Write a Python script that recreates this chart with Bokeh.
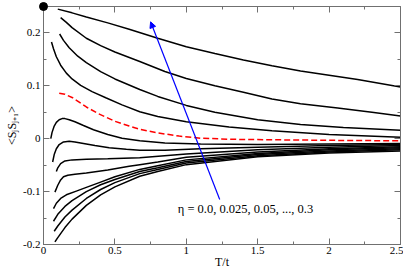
from bokeh.plotting import figure
from bokeh.models import (LinearAxis, SingleIntervalTicker, CustomJSTickFormatter,
                          Arrow, NormalHead, Label)
from bokeh.embed import file_html
from bokeh.resources import INLINE

# ---------------- data ----------------
eta_values = [0.0, 0.025, 0.05, 0.075, 0.1, 0.125, 0.15, 0.175, 0.2, 0.225, 0.25, 0.275, 0.3]

T_300 = [0.10, 0.20, 0.30, 0.45, 0.60, 0.80, 1.00, 1.20, 1.40, 1.60, 1.80, 2.00, 2.20, 2.50]
S_300 = [0.245, 0.238, 0.230, 0.219, 0.207, 0.190, 0.174, 0.161, 0.149, 0.138, 0.128, 0.120, 0.112, 0.098]

T_275 = [0.12, 0.16, 0.20, 0.30, 0.40, 0.50, 0.674, 0.85, 1.00, 1.20, 1.40, 1.60, 1.80, 2.06, 2.30, 2.50]
S_275 = [0.229, 0.220, 0.210, 0.190, 0.176, 0.164, 0.146, 0.127, 0.114, 0.100, 0.088, 0.075, 0.066, 0.058, 0.050, 0.043]

T_250 = [0.113, 0.14, 0.18, 0.24, 0.30, 0.40, 0.50, 0.674, 0.80, 1.00, 1.20, 1.50, 1.80, 2.10, 2.50]
S_250 = [0.198, 0.186, 0.172, 0.156, 0.144, 0.127, 0.113, 0.093, 0.080, 0.063, 0.050, 0.036, 0.027, 0.021, 0.016]

T_225 = [0.056, 0.07, 0.09, 0.12, 0.16, 0.20, 0.26, 0.34, 0.44, 0.55, 0.674, 0.80, 1.00, 1.30, 1.60, 2.00, 2.50]
S_225 = [0.183, 0.170, 0.155, 0.139, 0.124, 0.113, 0.101, 0.089, 0.077, 0.064, 0.051, 0.042, 0.032, 0.022, 0.015, 0.008, 0.003]

T_200 = [0.11, 0.15, 0.20, 0.25, 0.30, 0.38, 0.50, 0.60, 0.674, 0.80, 0.95, 1.10, 1.30, 1.60, 2.00, 2.50]
S_200 = [0.086, 0.084, 0.078, 0.069, 0.060, 0.048, 0.033, 0.024, 0.018, 0.011, 0.005, 0.001, -0.001, -0.002, -0.003, -0.004]

T_175 = [0.051, 0.06, 0.075, 0.09, 0.11, 0.13, 0.15, 0.18, 0.22, 0.28, 0.35, 0.45, 0.55, 0.674, 0.85, 1.10, 1.50, 2.00, 2.50]
S_175 = [0.000, 0.012, 0.024, 0.031, 0.036, 0.038, 0.038, 0.036, 0.032, 0.025, 0.017, 0.008, 0.001, -0.004, -0.008, -0.010, -0.011, -0.010, -0.009]

T_150 = [0.064, 0.075, 0.09, 0.11, 0.14, 0.18, 0.22, 0.28, 0.36, 0.46, 0.58, 0.674, 0.85, 1.10, 1.50, 2.00, 2.50]
S_150 = [-0.044, -0.030, -0.019, -0.011, -0.006, -0.005, -0.006, -0.009, -0.013, -0.017, -0.020, -0.022, -0.022, -0.019, -0.016, -0.013, -0.011]

T_125 = [0.09, 0.10, 0.12, 0.15, 0.20, 0.30, 0.45, 0.674, 1.00, 1.50, 2.00, 2.50]
S_125 = [-0.062, -0.055, -0.047, -0.042, -0.040, -0.039, -0.038, -0.036, -0.029, -0.021, -0.016, -0.013]

T_100 = [0.08, 0.10, 0.12, 0.14, 0.17, 0.22, 0.30, 0.45, 0.60, 0.674, 0.80, 1.00, 1.50, 2.00, 2.50]
S_100 = [-0.101, -0.088, -0.078, -0.072, -0.069, -0.067, -0.065, -0.059, -0.052, -0.049, -0.044, -0.035, -0.025, -0.019, -0.015]

T_075 = [0.07, 0.09, 0.12, 0.16, 0.23, 0.30, 0.40, 0.50, 0.674, 0.80, 1.00, 1.50, 2.00, 2.50]
S_075 = [-0.132, -0.122, -0.113, -0.106, -0.099, -0.092, -0.082, -0.072, -0.058, -0.051, -0.040, -0.028, -0.021, -0.017]

T_050 = [0.07, 0.10, 0.15, 0.20, 0.30, 0.40, 0.50, 0.674, 0.80, 1.00, 1.50, 2.00, 2.50]
S_050 = [-0.156, -0.143, -0.128, -0.117, -0.100, -0.087, -0.077, -0.062, -0.055, -0.043, -0.030, -0.023, -0.019]

T_025 = [0.075, 0.10, 0.15, 0.20, 0.30, 0.40, 0.50, 0.674, 0.80, 1.00, 1.50, 2.00, 2.50]
S_025 = [-0.175, -0.165, -0.148, -0.135, -0.113, -0.096, -0.083, -0.066, -0.058, -0.046, -0.032, -0.025, -0.021]

T_000 = [0.08, 0.10, 0.15, 0.20, 0.30, 0.40, 0.50, 0.674, 0.80, 1.00, 1.50, 2.00, 2.50]
S_000 = [-0.195, -0.187, -0.168, -0.152, -0.126, -0.106, -0.091, -0.071, -0.062, -0.049, -0.034, -0.027, -0.023]

black_curves = [(T_300, S_300), (T_275, S_275), (T_250, S_250), (T_225, S_225),
                (T_175, S_175), (T_150, S_150), (T_125, S_125), (T_100, S_100),
                (T_075, S_075), (T_050, S_050), (T_025, S_025), (T_000, S_000)]
red_curve = (T_200, S_200)

dot_T = [0.0]
dot_S = [0.25]

arrow_start = (1.234, -0.115)
arrow_end = (0.75, 0.221)
note_pos = (0.94, -0.133)
note_text = "\u03b7 = 0.0, 0.025, 0.05, ..., 0.3"

x_label = "T/t"
y_label = "<S\u2c7cS\u2c7c\u208a\u2081>"

# ---------------- figure ----------------
FONT = "Liberation Serif"
AX = "#707070"

p = figure(width=403, height=271, x_range=(0, 2.5), y_range=(-0.2, 0.25),
           output_backend="svg", toolbar_location=None,
           min_border_left=43, min_border_right=3, min_border_top=6, min_border_bottom=0)
p.background_fill_color = "white"
p.border_fill_color = "white"
p.outline_line_color = None
p.xgrid.visible = False
p.ygrid.visible = False

fmt = CustomJSTickFormatter(code="return Number(tick.toFixed(3)).toString();")
empty = CustomJSTickFormatter(code="return '';")


def style(ax, ticker, formatter, show_labels, standoff=3):
    ax.ticker = ticker
    ax.formatter = formatter
    ax.axis_line_color = AX
    ax.axis_line_width = 1
    ax.major_tick_line_color = AX
    ax.minor_tick_line_color = AX
    ax.major_tick_in = 6
    ax.major_tick_out = 0
    ax.minor_tick_in = 3
    ax.minor_tick_out = 0
    ax.major_label_text_font = FONT
    ax.major_label_text_color = "black"
    if show_labels:
        ax.major_label_text_font_size = "11px"
        ax.major_label_standoff = standoff
    else:
        ax.major_label_text_font_size = "0px"
        ax.major_label_standoff = 0


style(p.xaxis[0], SingleIntervalTicker(interval=0.5, num_minor_ticks=2), fmt, True, 2)
style(p.yaxis[0], SingleIntervalTicker(interval=0.1, num_minor_ticks=2), fmt, True, 3)

p.xaxis[0].axis_label = x_label
p.yaxis[0].axis_label = y_label
for ax, so in ((p.xaxis[0], -2), (p.yaxis[0], 1)):
    ax.axis_label_text_font = FONT
    ax.axis_label_text_font_size = "12px"
    ax.axis_label_text_font_style = "normal"
    ax.axis_label_text_color = "black"
    ax.axis_label_standoff = so

top = LinearAxis()
style(top, SingleIntervalTicker(interval=0.5, num_minor_ticks=2), empty, False)
p.add_layout(top, "above")
right = LinearAxis()
style(right, SingleIntervalTicker(interval=0.1, num_minor_ticks=2), empty, False)
p.add_layout(right, "right")

for T, S in black_curves:
    p.line(T, S, line_color="black", line_width=1.5)
p.line(red_curve[0], red_curve[1], line_color="red", line_width=1.5, line_dash="6 3")

p.add_layout(Arrow(end=NormalHead(size=6, fill_color="blue", line_color="blue", line_width=1),
                   x_start=arrow_start[0], y_start=arrow_start[1],
                   x_end=arrow_end[0], y_end=arrow_end[1],
                   line_color="blue", line_width=1.2))
p.add_layout(Label(x=note_pos[0], y=note_pos[1], text=note_text, text_font=FONT,
                   text_font_size="12.5px", text_baseline="middle", text_color="black"))

p.scatter(dot_T, dot_S, size=8, color="black", level="overlay")

open("out.html", "w").write(file_html(p, INLINE))
